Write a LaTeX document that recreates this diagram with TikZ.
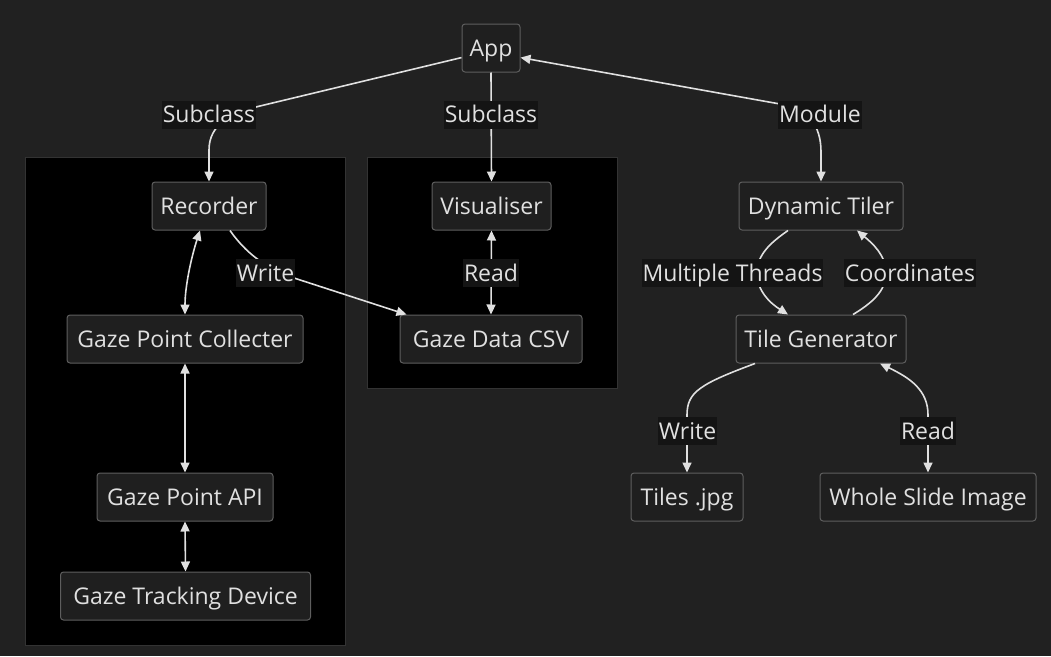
\documentclass[tikz,border=0pt]{standalone}
\usepackage{fontspec}
\setmainfont{Open Sans}
\usetikzlibrary{arrows.meta,calc}
\definecolor{bgc}{HTML}{212121}
\definecolor{nodefill}{HTML}{1F1F1F}
\definecolor{nodeline}{HTML}{5E5E5E}
\definecolor{txt}{HTML}{E0E0E0}
\definecolor{edgec}{HTML}{E0E0E0}
\definecolor{lblbg}{HTML}{141414}
\definecolor{clusterline}{HTML}{333333}
\tikzset{
  fnt/.style={font=\fontsize{23}{26}\selectfont, text height=18.5pt, text depth=2pt},
  box/.style={draw=nodeline, fill=nodefill, rounded corners=3pt, line width=1pt,
    minimum height=48pt, inner sep=0pt, text=txt, fnt},
  lbl/.style={fill=lblbg, inner xsep=1pt, inner ysep=0pt, minimum height=28pt, text=txt, fnt},
  conn/.style={draw=edgec, line width=1.6pt},
  tip/.style={-{Triangle[length=10pt,width=9pt]}},
  bitip/.style={{Triangle[length=10pt,width=9pt]}-{Triangle[length=10pt,width=9pt]}},
  cluster/.style={draw=clusterline, fill=black, line width=1pt}
}
\begin{document}
\begin{tikzpicture}[x=1pt,y=-1pt]
\fill[bgc] (0,0) rectangle (1051,656);
\useasboundingbox (0,0) rectangle (1051,656);
% clusters
\path[cluster] (25.5,157.5) rectangle (345.5,645.5);
\path[cluster] (367.5,157.5) rectangle (617.5,388.5);
% nodes
\node[box, minimum width=58pt] (app) at (491,48) {App};
\node[box, minimum width=114pt] (rec) at (209,206) {Recorder};
\node[box, minimum width=119pt] (vis) at (491.5,206) {Visualiser};
\node[box, minimum width=164pt] (dt) at (821,206) {Dynamic Tiler};
\node[box, minimum width=236pt] (gpc) at (185,339) {Gaze Point Collecter};
\node[box, minimum width=182pt] (csv) at (491,339) {Gaze Data CSV};
\node[box, minimum width=170pt] (tg) at (821,339) {Tile Generator};
\node[box, minimum width=176pt] (gpa) at (185,497) {Gaze Point API};
\node[box, minimum width=250pt] (gtd) at (185.5,596) {Gaze Tracking Device};
\node[box, minimum width=112pt] (tiles) at (687,497) {Tiles .jpg};
\node[box, minimum width=216pt] (wsi) at (928,497) {Whole Slide Image};
% edges
\draw[conn, tip] (app.198) -- (260,106) .. controls (230,113) and (209,125) .. (209,150) -- (rec.north);
\draw[conn, tip] (app.south) -- (vis.north);
\draw[conn, bitip] (app.-18) -- (780,104) .. controls (808,109) and (821,125) .. (821,152) -- (dt.north);
\draw[conn, tip] ($(rec.south)+(21,0)$) .. controls (245,252) and (265,268) .. (294,278) -- ($(csv.north west)+(7,0)$);
\draw[conn, bitip] ($(rec.south)+(-9,0)$) .. controls (192,255) and (185,285) .. (gpc.north);
\draw[conn, bitip] (vis.south) -- (csv.north);
\draw[conn, bitip] (gpc.south) -- (gpa.north);
\draw[conn, bitip] (gpa.south) -- (gtd.north);
\draw[conn, tip] ($(dt.south)+(-33,0)$) .. controls (770,243) and (757,255) .. (757,273) .. controls (757,291) and (770,303) .. ($(tg.north)+(-33,0)$);
\draw[conn, tip] ($(tg.north)+(32,0)$) .. controls (872,303) and (886,291) .. (886,273) .. controls (886,255) and (872,243) .. ($(dt.south)+(36,0)$);
\draw[conn, tip] ($(tg.south)+(-66,0)$) .. controls (700,384) and (687,392) .. (687,415) -- (tiles.north);
\draw[conn, bitip] (wsi.north) -- (928,415) .. controls (928,390) and (910,378) .. ($(tg.south)+(59,0)$);
% edge labels
\node[lbl] (l1) at (209,114.5) {Subclass};
\node[lbl] (l2) at (491,114.5) {Subclass};
\node[lbl] (l3) at (820,114.5) {Module};
\node[lbl] (l4) at (265.5,273) {Write};
\node[lbl] (l5) at (491,273) {Read};
\node[lbl] (l6) at (732.5,273) {Multiple Threads};
\node[lbl] (l7) at (910,273) {Coordinates};
\node[lbl] (l8) at (687.5,431) {Write};
\node[lbl] (l9) at (928,431) {Read};
\end{tikzpicture}
\end{document}
